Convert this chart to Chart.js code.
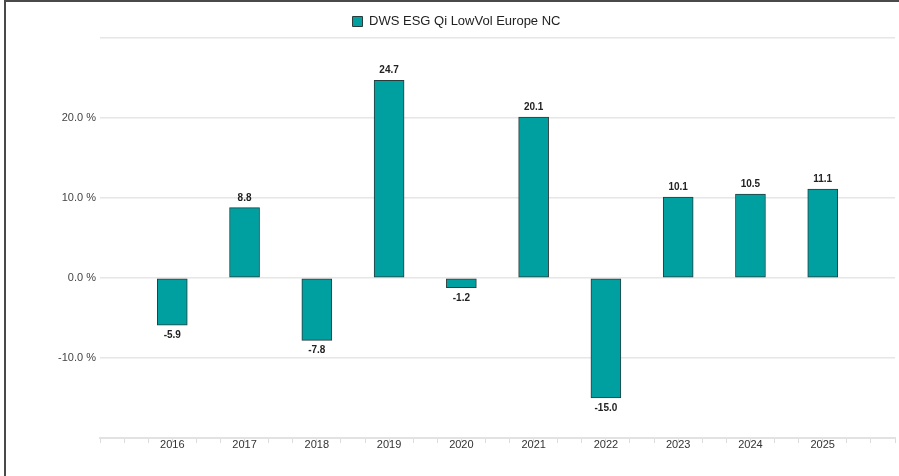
<!DOCTYPE html>
<html>
<head>
<meta charset="utf-8">
<script src="https://cdn.jsdelivr.net/npm/chart.js@4"></script>
<style>
  html, body { margin: 0; padding: 0; background: #fff; }
  .frame {
    position: absolute; left: 4px; top: 0;
    width: 893px; height: 474px;
    border-left: 2px solid #4a4a4a; border-top: 2px solid #4a4a4a;
  }
  .frame canvas { display: block; }
</style>
</head>
<body>
<div class="frame"><canvas id="chart" width="893" height="474"></canvas></div>
<script>
// ===== data =====
const seriesName = 'DWS ESG Qi LowVol Europe NC';
const years = [2016, 2017, 2018, 2019, 2020, 2021, 2022, 2023, 2024, 2025];
const returns = [-5.9, 8.8, -7.8, 24.7, -1.2, 20.1, -15.0, 10.1, 10.5, 11.1];
const yLabelled = [-10, 0, 10, 20];
const yMin = -20, yMax = 30, yStep = 10;
const xMin = years[0] - 1, xMax = years[years.length - 1] + 1;
const minorPerYear = 3;   // small tick marks on the x axis

const teal = '#00a0a1';
const barEdge = '#2a3b3b';

// value labels above / below each bar
const valueLabels = {
    id: 'valueLabels',
    afterDatasetsDraw(chart) {
        const ctx = chart.ctx;
        const meta = chart.getDatasetMeta(0);
        ctx.save();
        ctx.font = 'bold 10px "Liberation Sans", Arial, sans-serif';
        ctx.fillStyle = '#222';
        ctx.textAlign = 'center';
        ctx.textBaseline = 'alphabetic';
        meta.data.forEach((bar, i) => {
            const v = returns[i];
            const txt = v.toFixed(1);
            if (v >= 0) ctx.fillText(txt, bar.x, bar.y - 7);
            else ctx.fillText(txt, bar.x, bar.y + 13);
        });
        ctx.restore();
    }
};

Chart.defaults.font.family = '"Liberation Sans", Arial, sans-serif';
Chart.defaults.color = '#444';

new Chart(document.getElementById('chart'), {
    type: 'bar',
    data: {
        datasets: [{
            label: seriesName,
            data: years.map((y, i) => ({ x: y, y: returns[i] })),
            backgroundColor: teal,
            borderColor: barEdge,
            borderWidth: 1,
            borderSkipped: false,
            barThickness: 30
        }]
    },
    options: {
        responsive: false,
        animation: false,
        layout: { padding: { top: 2, right: 4, left: 12, bottom: 0 } },
        plugins: {
            legend: {
                position: 'top',
                labels: {
                    boxWidth: 10, boxHeight: 10, padding: 11,
                    color: '#222',
                    font: { size: 13 }
                }
            },
            tooltip: { enabled: false }
        },
        scales: {
            x: {
                type: 'linear',
                offset: false,
                min: xMin,
                max: xMax,
                afterBuildTicks: scale => {
                    const t = [];
                    for (let k = 0; k <= (xMax - xMin) * minorPerYear; k++) {
                        t.push({ value: xMin + k / minorPerYear });
                    }
                    scale.ticks = t;
                },
                ticks: {
                    autoSkip: false,
                    maxRotation: 0,
                    padding: -5,
                    color: '#333',
                    font: { size: 11 },
                    callback: v => {
                        const r = Math.round(v);
                        return (Math.abs(v - r) < 0.01 && years.includes(r)) ? String(r) : '';
                    }
                },
                grid: { offset: false, drawOnChartArea: false, tickLength: 5, color: '#dcdcdc', lineWidth: 1 },
                border: { color: '#e2e2e2', width: 2 },
                afterFit: s => { s.height = 38; }
            },
            y: {
                min: yMin, max: yMax,
                ticks: {
                    stepSize: yStep,
                    padding: 4,
                    color: '#444',
                    font: { size: 11 },
                    callback: v => yLabelled.includes(v) ? v.toFixed(1) + ' %' : ''
                },
                grid: { color: '#e6e6e6', lineWidth: 1.5, drawTicks: false },
                border: { display: false },
                afterFit: s => { s.width = 82; }
            }
        }
    },
    plugins: [valueLabels]
});
</script>
</body>
</html>
